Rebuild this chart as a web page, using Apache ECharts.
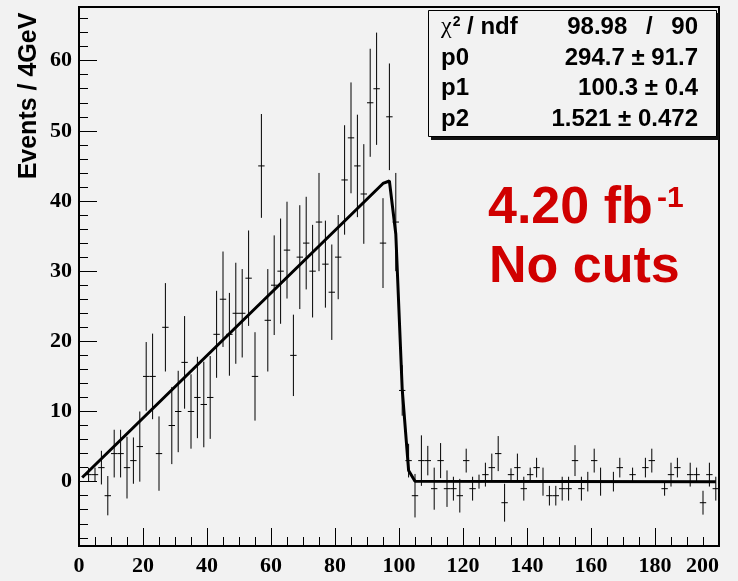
<!DOCTYPE html>
<html>
<head>
<meta charset="utf-8">
<script src="https://cdn.jsdelivr.net/npm/echarts@6/dist/echarts.min.js"></script>
<style>
  html, body { margin: 0; padding: 0; background: #f2f2f2; }
  #chart { width: 738px; height: 581px; }
</style>
</head>
<body>
<div id="chart"></div>
<script>
// Histogram: 100 bins of 2 GeV over 0..200
const xRange = [0, 200];
const binWidth = 2;

// Bin contents (background subtracted) and their errors
const counts = [
  0, 1, 1, 2, -2, 4, 4, 2, 3, 5,
  15, 15, 4, 22, 8, 10, 17, 10, 12, 11,
  12, 21, 26, 21, 24, 24, 29, 15, 45, 23,
  28, 30, 33, 18, 32, 34, 30, 37, 31, 27,
  32, 43, 49, 45, 41, 54, 56, 34, 52, 37,
  13, 3, -2, 3, 3, -1, 3, -1, -1, -2,
  3, -1, 0, 1, 2, 4, -3, 1, 2, -1,
  1, 2, 0, -2, -2, -1, -1, 3, -1, 0,
  3, 0, 0, 0, 2, 0, 1, 0, 2, 3,
  0, -1, 1, 2, 0, 1, 1, -3, 1, -1
];
const errors = [
  0, 1, 1, 2.4, 2.8, 3.4, 3.4, 4.4, 3.3, 5.0,
  4.9, 6.1, 5.3, 6.3, 5.5, 5.8, 6.6, 5.3, 5.8, 6.1,
  5.9, 6.2, 6.8, 5.9, 7.2, 6.3, 6.8, 6.3, 7.4, 7.3,
  7.1, 7.5, 6.9, 5.8, 7.4, 6.6, 6.6, 7.0, 6.2, 6.8,
  6.0, 7.8, 7.9, 7.3, 7.1, 7.7, 8.0, 6.4, 7.6, 7.0,
  3.6, 2.4, 3.1, 3.6, 2.1, 3.0, 2.5, 2.6, 1.7, 2.4,
  1.7, 1.7, 1.0, 1.7, 2.0, 2.5, 2.7, 0.9, 2.0, 1.7,
  1.0, 1.4, 2.0, 1.4, 1.4, 1.7, 1.7, 2.2, 1.7, 1.4,
  1.7, 2.0, 0, 1.4, 1.4, 0, 1.0, 0, 1.4, 1.7,
  0, 1.0, 1.7, 1.4, 0, 1.7, 1.0, 1.7, 1.7, 1.7
];

// Fitted edge function, vertices of the drawn polyline
const fitX = [1, 95, 97, 99, 101, 103, 105, 199];
const fitY = [0.6, 42.5, 42.85, 35.3, 13.2, 1.6, 0.05, 0];

// Axis ticks
const xTickLabels = [0, 20, 40, 60, 80, 100, 120, 140, 160, 180, 200];
const yTickLabels = [0, 10, 20, 30, 40, 50, 60];
const yRange = [-9.17, 67.65];

// Fit results box
const statNames = ['χ', 'p0', 'p1', 'p2'];
const statValues = ['98.98 \u2002/\u2002 90', '294.7 ± 91.7', '100.3 ± 0.4', '1.521 ± 0.472'];

const xMinor = [];
for (let v = xRange[0]; v <= xRange[1]; v += 5) if (v % 20 !== 0) xMinor.push(v);
const yMinor = [];
for (let v = -8; v <= 66; v += 2) if (v % 10 !== 0) yMinor.push(v);

const histData = counts.map((c, i) => [xRange[0] + (i + 0.5) * binWidth, c, errors[i]]);
const fitData = fitX.map((x, i) => [x, fitY[i]]);

const serifBold = { fontFamily: 'Liberation Serif', fontWeight: 'bold', fontSize: 22, color: '#000' };
const sansBold = '"Liberation Sans", Arial, sans-serif';

const chart = echarts.init(document.getElementById('chart'), null, { renderer: 'canvas' });

const rowY = [27, 58, 88, 119];
const graphics = [
  // axis title
  { type: 'text', x: 29, y: 96, rotation: Math.PI / 2,
    style: { text: 'Events / 4GeV', font: 'bold 25px ' + sansBold, fill: '#000', align: 'center', verticalAlign: 'middle' } },
  // stats box shadow and frame
  { type: 'rect', shape: { x: 431, y: 13, width: 288, height: 127 }, style: { fill: '#111' } },
  { type: 'rect', shape: { x: 428.5, y: 10.5, width: 288, height: 126 }, style: { fill: '#f2f2f2', stroke: '#000', lineWidth: 1 } },
  // chi2 label with superscript
  { type: 'text', x: 441, y: rowY[0],
    style: { text: '{g|χ}{s|2}{n| / ndf}', align: 'left', verticalAlign: 'middle',
      rich: {
        g: { font: '24px "Liberation Serif", serif', fill: '#000' },
        s: { font: 'bold 14px ' + sansBold, fill: '#000', verticalAlign: 'top', padding: [0, 0, 10, 1] },
        n: { font: 'bold 24px ' + sansBold, fill: '#000' }
      } } },
  // red annotation
  { type: 'text', x: 488, y: 209,
    style: { text: '4.20 fb', font: 'bold 52px ' + sansBold, fill: '#d00000', align: 'left', verticalAlign: 'middle' } },
  { type: 'text', x: 657, y: 199,
    style: { text: '-1', font: 'bold 30px ' + sansBold, fill: '#d00000', align: 'left', verticalAlign: 'middle' } },
  { type: 'text', x: 489, y: 268,
    style: { text: 'No cuts', font: 'bold 52px ' + sansBold, fill: '#d00000', align: 'left', verticalAlign: 'middle' } }
];
for (let r = 1; r < 4; r++) {
  graphics.push({ type: 'text', x: 441, y: rowY[r],
    style: { text: statNames[r], font: 'bold 24px ' + sansBold, fill: '#000', align: 'left', verticalAlign: 'middle' } });
}
for (let r = 0; r < 4; r++) {
  graphics.push({ type: 'text', x: 698, y: rowY[r],
    style: { text: statValues[r], font: 'bold 24px ' + sansBold, fill: '#000', align: 'right', verticalAlign: 'middle' } });
}

chart.setOption({
  backgroundColor: '#f2f2f2',
  animation: false,
  grid: { left: 79, right: 19, top: 7, bottom: 35, show: true, borderColor: '#000', borderWidth: 2, backgroundColor: 'transparent' },
  xAxis: [
    { type: 'value', min: xRange[0], max: xRange[1], position: 'bottom',
      axisLine: { show: true, onZero: false, lineStyle: { color: '#000', width: 2 } },
      axisTick: { show: true, inside: true, length: 18, customValues: xTickLabels, lineStyle: { color: '#000', width: 1 } },
      axisLabel: Object.assign({ show: true, margin: 9, customValues: xTickLabels, alignMaxLabel: 'right' }, serifBold),
      splitLine: { show: false } },
    { type: 'value', min: xRange[0], max: xRange[1], position: 'bottom',
      axisLine: { show: false, onZero: false },
      axisTick: { show: true, inside: true, length: 9, customValues: xMinor, lineStyle: { color: '#000', width: 1 } },
      axisLabel: { show: false },
      splitLine: { show: false } }
  ],
  yAxis: [
    { type: 'value', min: yRange[0], max: yRange[1], position: 'left',
      axisLine: { show: true, onZero: false, lineStyle: { color: '#000', width: 2 } },
      axisTick: { show: true, inside: true, length: 18, customValues: yTickLabels, lineStyle: { color: '#000', width: 1 } },
      axisLabel: Object.assign({ show: true, margin: 7, customValues: yTickLabels }, serifBold),
      splitLine: { show: false } },
    { type: 'value', min: yRange[0], max: yRange[1], position: 'left',
      axisLine: { show: false, onZero: false },
      axisTick: { show: true, inside: true, length: 9, customValues: yMinor, lineStyle: { color: '#000', width: 1 } },
      axisLabel: { show: false },
      splitLine: { show: false } }
  ],
  series: [
    { type: 'custom', name: 'data', xAxisIndex: 0, yAxisIndex: 0, clip: true,
      data: histData, encode: { x: 0, y: 1 },
      renderItem: function (params, api) {
        const x = api.value(0), v = api.value(1), e = api.value(2);
        if (v === 0 && e === 0) return null;
        const c = api.coord([x, v]);
        const l = api.coord([x - binWidth / 2, v]);
        const r = api.coord([x + binWidth / 2, v]);
        const t = api.coord([x, v + e]);
        const b = api.coord([x, v - e]);
        return { type: 'group', children: [
          { type: 'line', shape: { x1: l[0], y1: c[1], x2: r[0], y2: c[1] }, style: { stroke: '#000', lineWidth: 1 } },
          { type: 'line', shape: { x1: c[0], y1: t[1], x2: c[0], y2: b[1] }, style: { stroke: '#000', lineWidth: 1 } }
        ] };
      } },
    { type: 'line', name: 'fit', xAxisIndex: 0, yAxisIndex: 0, data: fitData, symbol: 'none', z: 5,
      lineStyle: { color: '#000', width: 3 } }
  ],
  graphic: graphics
});
</script>
</body>
</html>
